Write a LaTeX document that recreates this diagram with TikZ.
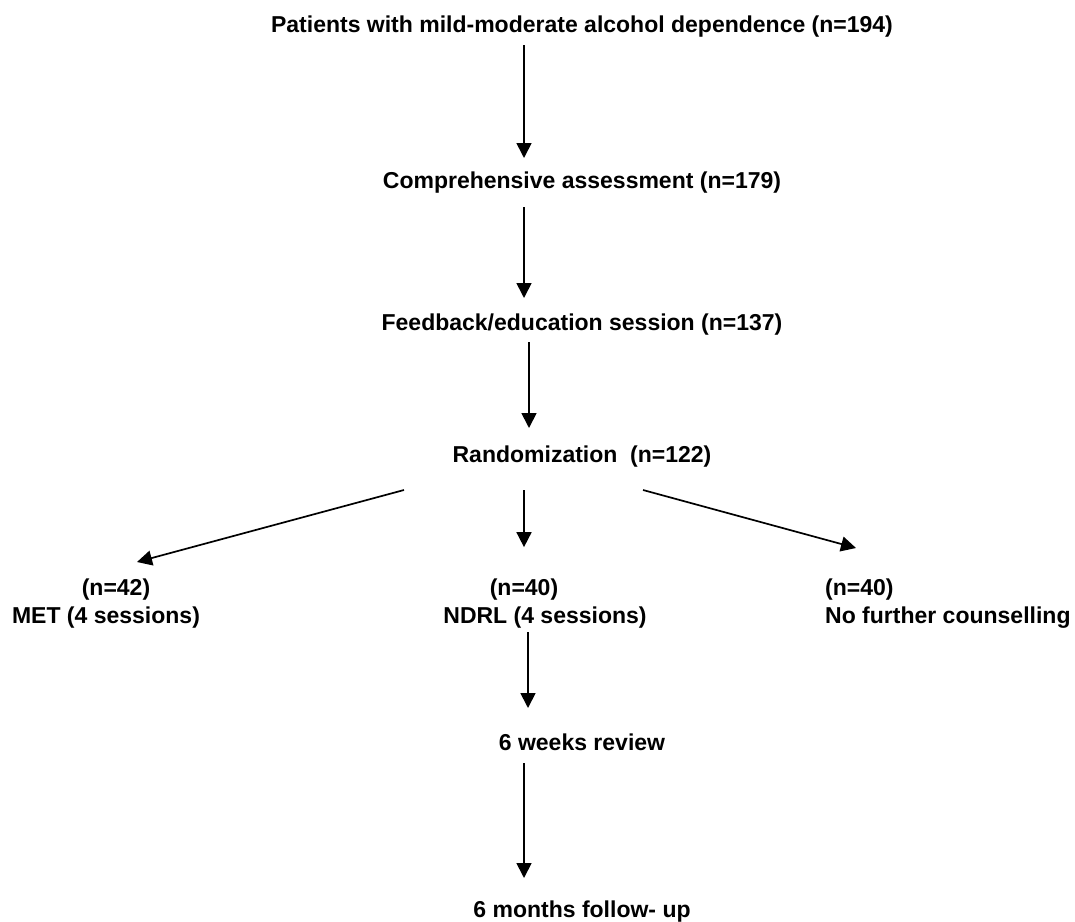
\documentclass[tikz,border=0pt]{standalone}
\usepackage{fontspec}
\setmainfont{Liberation Sans}
\usetikzlibrary{arrows.meta}

\tikzset{
  lbl/.style={anchor=base, inner sep=0pt, font=\bfseries\fontsize{23}{28}\selectfont},
  arr/.style={line width=1.7pt, -{Triangle[length=15pt,width=15pt]}}
}

\begin{document}
\begin{tikzpicture}[x=1pt, y=-1pt]
\useasboundingbox (0,0) rectangle (1075,921);

\coordinate (ax)  at (524,0);
\coordinate (axb) at (529,0);
\coordinate (axc) at (528,0);

% main column
\node[lbl] (pat)  at (582,32)  {Patients with mild-moderate alcohol dependence (n=194)};
\node[lbl] (comp) at (582,188) {Comprehensive assessment (n=179)};
\node[lbl] (feed) at (582,330) {Feedback/education session (n=137)};
\node[lbl] (rand) at (582,462) {Randomization\ \ (n=122)};

% the three arms
\node[lbl] (nmet)  at (116,595) {(n=42)};
\node[lbl] (met)   at (106,623) {MET (4 sessions)};
\node[lbl] (nndrl) at (524,595) {(n=40)};
\node[lbl] (ndrl)  at (545,623) {NDRL (4 sessions)};
\node[lbl, anchor=base west] (nnone) at (825,595) {(n=40)};
\node[lbl, anchor=base west] (none)  at (825,623) {No further counselling};

\node[lbl] (weeks)  at (582,750) {6 weeks review};
\node[lbl] (months) at (582,917) {6 months follow- up};

\draw[arr, shorten <=13pt, shorten >=30pt] (pat.base -| ax) -- (comp.base -| ax);
\draw[arr, shorten <=19pt, shorten >=32pt] (comp.base -| ax) -- (feed.base -| ax);
\draw[arr, shorten <=12pt, shorten >=34pt] (feed.base -| axb) -- (rand.base -| axb);

% randomization fork
\coordinate (forkL) at (404,490);
\coordinate (forkM) at (524,490);
\coordinate (forkR) at (643,490);
\coordinate (tipL)  at (137,562);
\coordinate (tipR)  at (856,548);

\draw[arr] (forkL) -- (tipL);
\draw[arr, shorten >=31pt] (forkM) -- (nndrl.north);
\draw[arr] (forkR) -- (tipR);

\draw[arr, shorten <=9pt, shorten >=42pt] (ndrl.base -| axc) -- (weeks.base -| axc);
\draw[arr, shorten <=13pt, shorten >=39pt] (weeks.base -| ax) -- (months.base -| ax);

\end{tikzpicture}
\end{document}
